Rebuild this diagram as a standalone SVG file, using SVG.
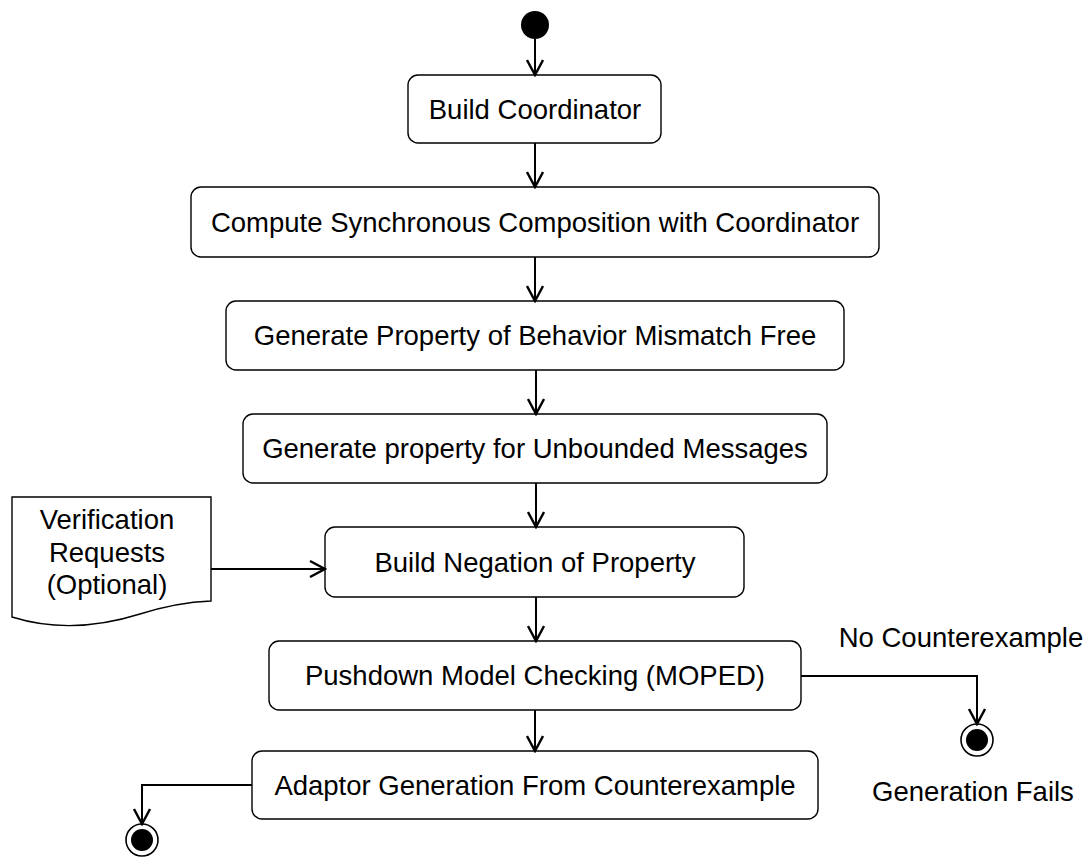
<svg xmlns="http://www.w3.org/2000/svg" width="1090" height="858" viewBox="0 0 1090 858">
  <style>
    .act { fill: #ffffff; stroke: #000000; stroke-width: 1.4; }
    .lbl { font-family: "Liberation Sans", Arial, sans-serif; font-size: 27.5px; fill: #000000; text-anchor: middle; }
    .edge { fill: none; stroke: #000000; stroke-width: 2; }
    .doc { fill: #ffffff; stroke: #000000; stroke-width: 1.4; }
  </style>
  <defs>
    <marker id="arrow" viewBox="0 0 18 18" refX="16.5" refY="9" markerWidth="18" markerHeight="18" orient="auto" markerUnits="userSpaceOnUse">
      <path d="M1.5,1 L16.5,9 L1.5,17" fill="none" stroke="#000000" stroke-width="2.4"/>
    </marker>
  </defs>
  <rect width="1090" height="858" fill="#ffffff"/>

  <!-- initial node -->
  <g id="start">
    <circle cx="535" cy="25" r="14" fill="#000000"/>
  </g>

  <g id="build-coordinator">
    <rect class="act" x="408" y="75" width="253" height="68" rx="10"/>
    <text class="lbl" x="535" y="119">Build Coordinator</text>
  </g>

  <g id="sync-composition">
    <rect class="act" x="191" y="187" width="688" height="70" rx="10"/>
    <text class="lbl" x="535" y="232">Compute Synchronous Composition with Coordinator</text>
  </g>

  <g id="mismatch-property">
    <rect class="act" x="226" y="301" width="618" height="69" rx="10"/>
    <text class="lbl" x="535" y="345">Generate Property of Behavior Mismatch Free</text>
  </g>

  <g id="unbounded-property">
    <rect class="act" x="243" y="414" width="584" height="69" rx="10"/>
    <text class="lbl" x="535" y="458">Generate property for Unbounded Messages</text>
  </g>

  <g id="negation">
    <rect class="act" x="325" y="527" width="419" height="70" rx="10"/>
    <text class="lbl" x="535" y="572">Build Negation of Property</text>
  </g>

  <g id="model-checking">
    <rect class="act" x="269" y="641" width="532" height="69" rx="10"/>
    <text class="lbl" x="535" y="685">Pushdown Model Checking (MOPED)</text>
  </g>

  <g id="adaptor-generation">
    <rect class="act" x="252" y="751" width="566" height="68" rx="10"/>
    <text class="lbl" x="535" y="795">Adaptor Generation From Counterexample</text>
  </g>

  <!-- input document -->
  <g id="verification-requests">
    <path class="doc" d="M12,497 H211 V601 C187,602 165,606 140,614 C105,625 60,632 12,617 Z"/>
    <text class="lbl" x="107" y="529">Verification</text>
    <text class="lbl" x="107" y="562">Requests</text>
    <text class="lbl" x="107" y="594">(Optional)</text>
  </g>

  <!-- final nodes -->
  <g id="end-fail">
    <circle cx="977" cy="740" r="16" fill="#ffffff" stroke="#000000" stroke-width="1.6"/>
    <circle cx="977" cy="740" r="11" fill="#000000"/>
    <text class="lbl" x="973" y="801">Generation Fails</text>
  </g>

  <g id="end-success">
    <circle cx="142" cy="840" r="16" fill="#ffffff" stroke="#000000" stroke-width="1.6"/>
    <circle cx="142" cy="840" r="11" fill="#000000"/>
  </g>

  <g id="connectors">
    <path class="edge" d="M535,39 V75" marker-end="url(#arrow)"/>
    <path class="edge" d="M535,143 V187" marker-end="url(#arrow)"/>
    <path class="edge" d="M535,257 V301" marker-end="url(#arrow)"/>
    <path class="edge" d="M536,370 V414" marker-end="url(#arrow)"/>
    <path class="edge" d="M536,483 V527" marker-end="url(#arrow)"/>
    <path class="edge" d="M536,597 V641" marker-end="url(#arrow)"/>
    <path class="edge" d="M535,710 V751" marker-end="url(#arrow)"/>
    <path class="edge" d="M211,569 H325" marker-end="url(#arrow)"/>
    <path class="edge" d="M801,676 H977 V724" marker-end="url(#arrow)"/>
    <path class="edge" d="M252,785 H142 V824" marker-end="url(#arrow)"/>
    <text class="lbl" x="961" y="647">No Counterexample</text>
  </g>
</svg>
